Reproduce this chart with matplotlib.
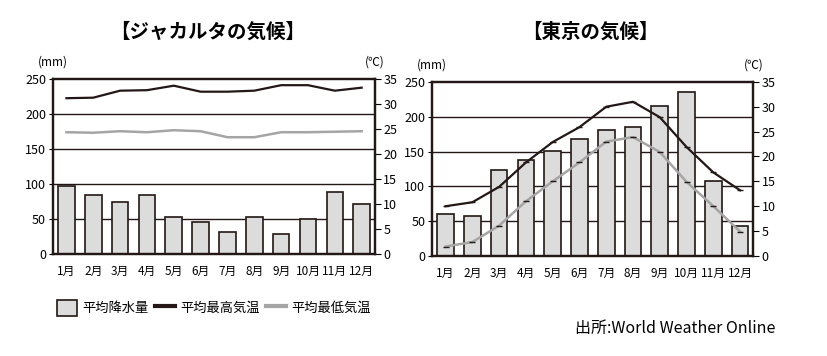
import matplotlib
matplotlib.use("Agg")
import matplotlib.pyplot as plt
from matplotlib.patches import Patch
from matplotlib.lines import Line2D

plt.rcParams['font.family'] = ['Noto Sans CJK JP', 'DejaVu Sans']

months = ["1月", "2月", "3月", "4月", "5月", "6月", "7月", "8月", "9月", "10月", "11月", "12月"]

# Jakarta
jkt_rain = [97, 84, 74, 84, 52, 46, 31, 52, 28, 49, 88, 71]
jkt_tmax = [31.1, 31.2, 32.6, 32.7, 33.6, 32.4, 32.4, 32.6, 33.7, 33.7, 32.6, 33.2]
jkt_tmin = [24.3, 24.2, 24.5, 24.3, 24.7, 24.5, 23.3, 23.3, 24.3, 24.3, 24.4, 24.5]

# Tokyo
tyo_rain = [60, 58, 123, 138, 151, 168, 181, 185, 215, 236, 107, 43]
tyo_tmax = [10.0, 10.8, 13.9, 18.8, 22.9, 25.9, 30.0, 31.0, 27.9, 21.9, 16.8, 13.2]
tyo_tmin = [1.9, 2.8, 6.1, 11.0, 15.0, 18.8, 23.0, 23.9, 20.9, 14.9, 10.0, 4.9]

rain_ticks = [0, 50, 100, 150, 200, 250]
temp_ticks = [0, 5, 10, 15, 20, 25, 30, 35]

dark = "#231815"
bar_fc = "#dcdcdc"
gray = "#a5a5a5"


def draw_climate(ax, rain, tmax, tmin, markers):
    x = list(range(len(months)))
    ax.set_xlim(-0.5, len(months) - 0.5)
    ax.set_ylim(0, 250)
    for v in rain_ticks[1:-1]:
        ax.axhline(v, color=dark, lw=1.0, zorder=1)
    ax.bar(x, rain, width=0.62, color=bar_fc, edgecolor=dark, lw=1.2, zorder=2)
    ax.set_yticks(rain_ticks)
    ax.set_xticks(x)
    ax.set_xticklabels(months, fontsize=8.5)
    ax.tick_params(axis='y', labelsize=9, length=3, width=0.8, pad=2)
    ax.tick_params(axis='x', length=0, pad=8)
    for s in ax.spines.values():
        s.set_linewidth(1.6)
        s.set_color(dark)
    ax.text(0.0, 1.06, "(mm)", transform=ax.transAxes, ha='center', va='bottom', fontsize=8.5)
    ax.text(1.0, 1.06, "(℃)", transform=ax.transAxes, ha='center', va='bottom', fontsize=8.5)

    ax2 = ax.twinx()
    ax2.set_ylim(0, 35)
    ax2.set_yticks(temp_ticks)
    ax2.tick_params(axis='y', labelsize=9, length=4, width=0.8, pad=2)
    mk = '_' if markers else None
    ax2.plot(x, tmax, color=dark, lw=1.6, marker=mk, ms=5, mew=1.0, zorder=3)
    ax2.plot(x, tmin, color=gray, lw=1.8, marker=mk, ms=5, mew=1.0, mec=dark, zorder=3)
    for s in ax2.spines.values():
        s.set_linewidth(1.6)
        s.set_color(dark)
    return ax2


fig = plt.figure(figsize=(8.28, 3.56), dpi=100)
ax_l = fig.add_axes([0.064, 0.287, 0.389, 0.492])
ax_r = fig.add_axes([0.522, 0.281, 0.388, 0.489])

draw_climate(ax_l, jkt_rain, jkt_tmax, jkt_tmin, False)
draw_climate(ax_r, tyo_rain, tyo_tmax, tyo_tmin, True)

fig.text(208 / 828, 1 - 32 / 356, "【ジャカルタの気候】", ha='center', va='center',
         fontsize=14, fontweight='bold')
fig.text(590 / 828, 1 - 32 / 356, "【東京の気候】", ha='center', va='center',
         fontsize=14, fontweight='bold')

handles = [
    Patch(facecolor=bar_fc, edgecolor=dark, lw=1.2),
    Line2D([], [], color=dark, lw=3),
    Line2D([], [], color=gray, lw=3),
]
labels = ["平均降水量", "平均最高気温", "平均最低気温"]
fig.legend(handles, labels, loc='center left', bbox_to_anchor=(0.055, 0.135),
           ncol=3, frameon=False, fontsize=9.5, handlelength=1.5, handleheight=1.5,
           handletextpad=0.4, columnspacing=0.5)

fig.text(0.937, 0.078, "出所:World Weather Online", ha='right', va='center', fontsize=11.5)

fig.savefig("out.png", dpi=100)
